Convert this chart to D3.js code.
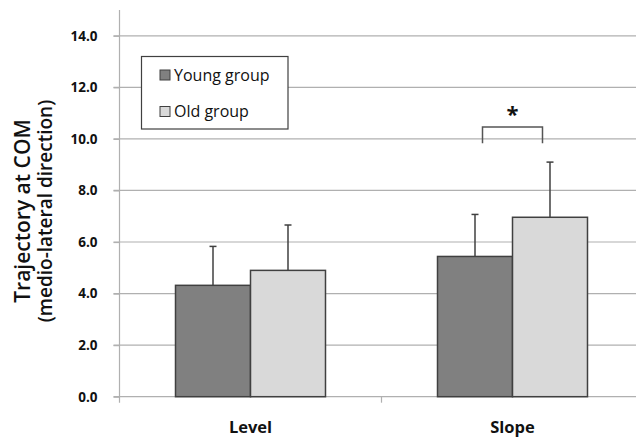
<!DOCTYPE html>
<html>
<head>
<meta charset="utf-8">
<script src="https://cdn.jsdelivr.net/npm/d3@7"></script>
<style>
  html, body { margin: 0; padding: 0; background: #ffffff; }
  svg { display: block; }
  text { font-family: "Open Sans", "Liberation Sans", sans-serif; }
</style>
</head>
<body>
<script>
// ---- data ----
const categories = ["Level", "Slope"];
const seriesNames = ["Young group", "Old group"];
const youngMeans = [4.32, 5.44];
const youngSD = [1.51, 1.63];
const oldMeans = [4.90, 6.96];
const oldSD = [1.76, 2.14];
const yTicks = [0, 2, 4, 6, 8, 10, 12, 14];
const yTitleLines = ["Trajectory at COM", "(medio-lateral direction)"];
const sigBracket = { category: "Slope", low: 9.83, high: 10.46, label: "*", labelAt: 11.2 };

const W = 636, H = 438;
const svg = d3.select("body").append("svg").attr("width", W).attr("height", H);

const plotLeft = 119.5, plotRight = 643.5, plotTop = 10, plotBottom = 396.7;

const y = d3.scaleLinear().domain([0, 15]).range([plotBottom, plotTop]);
const x0 = d3.scaleBand().domain(categories).range([plotLeft, plotRight]).padding(0);
const x1 = d3.scaleBand().domain(seriesNames).range([0, x0.bandwidth()]).paddingInner(0).paddingOuter(0.7467);

const colors = { "Young group": "#808080", "Old group": "#d9d9d9" };
const stroke = "#404040";
const gridColor = "#b0b0b0";

// gridlines
svg.append("g").selectAll("line").data(yTicks.filter(d => d > 0)).join("line")
  .attr("x1", plotLeft - 6).attr("x2", W)
  .attr("y1", d => y(d)).attr("y2", d => y(d))
  .attr("stroke", gridColor).attr("stroke-width", 1.2);

// y axis
const yAxis = d3.axisLeft(y).tickValues(yTicks).tickFormat(d3.format(".1f")).tickSize(6).tickPadding(16);
const gy = svg.append("g").attr("transform", `translate(${plotLeft},0)`).call(yAxis);
gy.select(".domain").attr("d", `M0,${plotTop}V${plotBottom + 6}`).attr("stroke", gridColor).attr("stroke-width", 1.2);
gy.selectAll(".tick line").attr("stroke", gridColor).attr("stroke-width", 1.2);
gy.selectAll(".tick text").attr("font-size", 13.5).attr("font-weight", "bold").attr("fill", "#111")
  .attr("font-family", "'Open Sans', sans-serif");

// x axis
const xAxis = d3.axisBottom(x0).tickSize(0).tickPadding(0);
const gx = svg.append("g").attr("transform", `translate(0,${plotBottom})`).call(xAxis);
gx.select(".domain").attr("d", `M${plotLeft - 6},0H${W}`).attr("stroke", gridColor).attr("stroke-width", 1.2);
gx.selectAll(".tick text").attr("font-size", 16.5).attr("font-weight", "bold").attr("fill", "#111")
  .attr("font-family", "'Open Sans', sans-serif").attr("y", 36).attr("dy", 0);
// category boundary ticks
svg.append("g").selectAll("line").data(categories.slice(1)).join("line")
  .attr("x1", d => x0(d)).attr("x2", d => x0(d))
  .attr("y1", plotBottom).attr("y2", plotBottom + 6)
  .attr("stroke", gridColor).attr("stroke-width", 1.2);

// bars
const rows = categories.map((c, i) => ({
  cat: c,
  vals: [
    { s: "Young group", v: youngMeans[i], sd: youngSD[i] },
    { s: "Old group", v: oldMeans[i], sd: oldSD[i] }
  ]
}));

const groups = svg.append("g").selectAll("g").data(rows).join("g")
  .attr("transform", d => `translate(${x0(d.cat)},0)`);

// error bars (drawn behind bars)
groups.selectAll("line.err").data(d => d.vals).join("line").attr("class", "err")
  .attr("x1", d => x1(d.s) + x1.bandwidth() / 2).attr("x2", d => x1(d.s) + x1.bandwidth() / 2)
  .attr("y1", d => y(d.v)).attr("y2", d => y(d.v + d.sd))
  .attr("stroke", stroke).attr("stroke-width", 1.5);
groups.selectAll("line.cap").data(d => d.vals).join("line").attr("class", "cap")
  .attr("x1", d => x1(d.s) + x1.bandwidth() / 2 - 3.5).attr("x2", d => x1(d.s) + x1.bandwidth() / 2 + 3.5)
  .attr("y1", d => y(d.v + d.sd)).attr("y2", d => y(d.v + d.sd))
  .attr("stroke", stroke).attr("stroke-width", 1.5);

groups.selectAll("rect").data(d => d.vals).join("rect")
  .attr("x", d => x1(d.s)).attr("width", x1.bandwidth())
  .attr("y", d => y(d.v)).attr("height", d => y(0) - y(d.v))
  .attr("fill", d => colors[d.s]).attr("stroke", stroke).attr("stroke-width", 1.5);

// significance bracket
const bx = x0(sigBracket.category);
const bL = bx + x1("Young group") + x1.bandwidth() * 0.6;
const bR = bx + x1("Old group") + x1.bandwidth() * 0.4;
svg.append("path")
  .attr("d", `M${bL},${y(sigBracket.low)}V${y(sigBracket.high)}H${bR}V${y(sigBracket.low)}`)
  .attr("fill", "none").attr("stroke", "#555").attr("stroke-width", 1.5);
svg.append("text").attr("x", (bL + bR) / 2).attr("y", y(sigBracket.labelAt) + 14)
  .attr("text-anchor", "middle").attr("font-size", 22).attr("font-weight", "bold").attr("fill", "#111")
  .text(sigBracket.label);

// y title
const titleSizes = [21, 19];
const titleX = [22.5, 45.5];
svg.append("g").selectAll("text").data(yTitleLines).join("text")
  .attr("transform", (d, i) => `translate(${titleX[i]},211) rotate(-90)`)
  .attr("text-anchor", "middle").attr("dy", "0.35em")
  .attr("fill", "#111").attr("font-size", (d, i) => titleSizes[i]).attr("font-weight", 600)
  .text(d => d);

// legend
const legend = svg.append("g");
legend.append("rect").attr("x", 141.5).attr("y", 56.5).attr("width", 146.5).attr("height", 72.5)
  .attr("fill", "#fff").attr("stroke", "#404040").attr("stroke-width", 1.2);
const li = legend.selectAll("g").data(seriesNames).join("g")
  .attr("transform", (d, i) => `translate(160,${75 + i * 36.5})`);
li.append("rect").attr("x", 0).attr("y", -5).attr("width", 10).attr("height", 10)
  .attr("fill", d => colors[d]).attr("stroke", stroke).attr("stroke-width", 1);
li.append("text").attr("x", 14).attr("y", 0).attr("dy", "0.35em")
  .attr("font-size", 16).attr("fill", "#111").text(d => d);
</script>
</body>
</html>
